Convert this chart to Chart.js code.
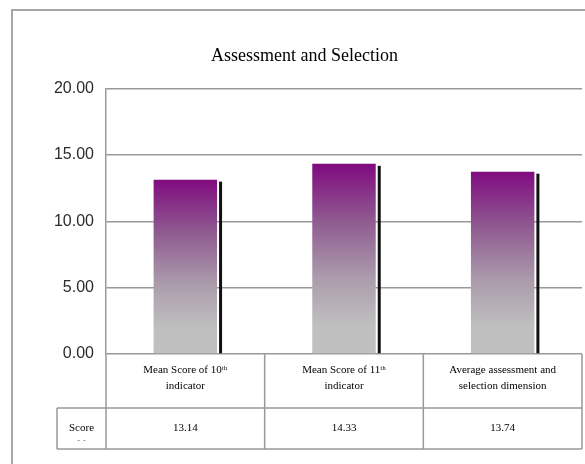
<!DOCTYPE html>
<html>
<head>
<meta charset="utf-8">
<script src="https://cdn.jsdelivr.net/npm/chart.js@4.4.0/dist/chart.umd.min.js"></script>
<style>
  html, body { margin: 0; padding: 0; background: #fff; }
  canvas { display: block; }
</style>
</head>
<body>
<canvas id="assessChart" width="585" height="464"></canvas>
<script>
// chart data
const chartTitle = 'Assessment and Selection';
const categories = [
    ['Mean Score of 10ᵗʰ', 'indicator'],
    ['Mean Score of 11ᵗʰ', 'indicator'],
    ['Average assessment and', 'selection dimension']
];
const scores = [13.14, 14.33, 13.74];
const scoreLabels = ['13.14', '14.33', '13.74'];
const yMin = 0, yMax = 20, yStep = 5;
const rowLabel = 'Score';

const lineGray = '#999999';
const serif = "'Liberation Serif', 'Times New Roman', serif";

// frame, table under the axis
const tablePlugin = {
    id: 'dataTable',
    beforeDraw(chart) {
        const c = chart.ctx;
        c.save();
        c.strokeStyle = '#a6a6a6';
        c.lineWidth = 2;
        c.beginPath();
        c.moveTo(12, chart.height);
        c.lineTo(12, 10);
        c.lineTo(chart.width, 10);
        c.stroke();
        c.restore();
    },
    afterDraw(chart) {
        const c = chart.ctx;
        const xs = chart.scales.x;
        const area = chart.chartArea;
        const half = (xs.getPixelForValue(1) - xs.getPixelForValue(0)) / 2;
        const top = area.bottom, mid = top + 54, bot = top + 95;
        const cellL = 57;

        c.save();
        c.strokeStyle = lineGray;
        c.lineWidth = 1.5;
        c.beginPath();
        // horizontal rules
        c.moveTo(cellL, mid); c.lineTo(area.right, mid);
        c.moveTo(cellL, bot); c.lineTo(area.right, bot);
        // left cell + axis going down
        c.moveTo(cellL, mid); c.lineTo(cellL, bot);
        c.moveTo(area.left, top); c.lineTo(area.left, bot);
        // column separators
        categories.forEach((cat, i) => {
            const xr = xs.getPixelForValue(i) + half;
            c.moveTo(xr, top); c.lineTo(xr, bot);
        });
        c.stroke();

        c.fillStyle = '#000';
        c.font = '11px ' + serif;
        c.textAlign = 'center';
        c.textBaseline = 'middle';
        scoreLabels.forEach((v, i) => {
            c.fillText(v, xs.getPixelForValue(i), (mid + bot) / 2);
        });
        c.fillText(rowLabel, (cellL + area.left) / 2, (mid + bot) / 2);
        c.font = '7px ' + serif;
        c.fillText('-  -', (cellL + area.left) / 2, (mid + bot) / 2 + 12);
        c.restore();
    }
};

// thin dark shadow at the right side of every bar
const shadowPlugin = {
    id: 'barShadow',
    afterDatasetsDraw(chart) {
        const c = chart.ctx;
        c.save();
        c.fillStyle = '#111';
        chart.getDatasetMeta(0).data.forEach(bar => {
            const p = bar.getProps(['x', 'y', 'base', 'width'], true);
            c.fillRect(p.x + p.width / 2 + 2, p.y + 2, 3, p.base - p.y - 2);
        });
        c.restore();
    }
};

function barGradient(ctx) {
    const chart = ctx.chart;
    const area = chart.chartArea;
    if (!area || ctx.raw === undefined) return '#800080';
    const yTop = chart.scales.y.getPixelForValue(ctx.raw);
    const g = chart.ctx.createLinearGradient(0, yTop, 0, area.bottom);
    g.addColorStop(0, '#800b80');
    g.addColorStop(0.3, '#8f5a90');
    g.addColorStop(0.6, '#ab9cac');
    g.addColorStop(0.85, '#bfbfbf');
    g.addColorStop(1, '#c0c0c0');
    return g;
}

new Chart(document.getElementById('assessChart'), {
    type: 'bar',
    data: {
        labels: categories,
        datasets: [{
            data: scores,
            backgroundColor: barGradient,
            borderWidth: 0,
            barPercentage: 0.4,
            categoryPercentage: 1
        }]
    },
    options: {
        responsive: false,
        animation: false,
        layout: { padding: { left: 27, right: 3, top: 45, bottom: 0 } },
        plugins: {
            legend: { display: false },
            tooltip: { enabled: false },
            title: {
                display: true,
                text: chartTitle,
                color: '#000',
                font: { family: serif, size: 18, weight: 'normal' },
                padding: { top: 0, bottom: 22 }
            }
        },
        scales: {
            x: {
                grid: { display: false, drawTicks: false },
                border: { display: false },
                ticks: {
                    color: '#000',
                    padding: 8,
                    font: { family: serif, size: 11, lineHeight: 1.45 },
                    maxRotation: 0,
                    autoSkip: false
                },
                afterFit(scale) { scale.height = 110; }
            },
            y: {
                min: yMin,
                max: yMax,
                grid: { color: lineGray, lineWidth: 1.5, drawTicks: false },
                border: { display: true, color: lineGray, width: 1.5 },
                ticks: {
                    stepSize: yStep,
                    color: '#2b2b2b',
                    padding: 12,
                    font: { family: "'Liberation Sans', Arial, sans-serif", size: 16 },
                    callback: v => v.toFixed(2)
                },
                afterFit(scale) { scale.width = 79; }
            }
        }
    },
    plugins: [tablePlugin, shadowPlugin]
});
</script>
</body>
</html>
